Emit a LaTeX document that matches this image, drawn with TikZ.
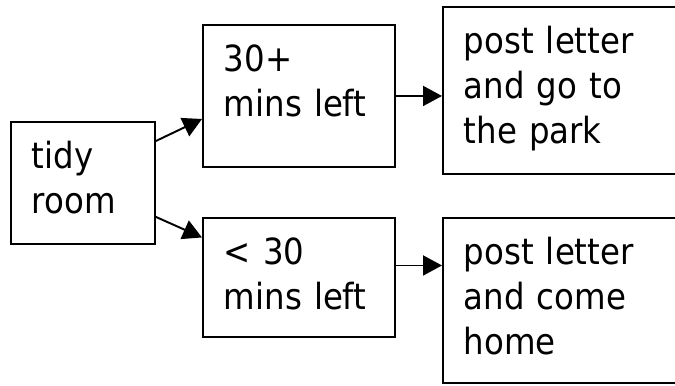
\documentclass[tikz,border=0pt]{standalone}
\usepackage{fontspec}
\setmainfont{DejaVu Sans}[FakeStretch=0.9]
\usetikzlibrary{arrows.meta, positioning}
\tikzstyle{box} = [rectangle, anchor=north west, draw=black, line width=1.1pt, align=left, inner xsep=0.42cm, inner ysep=0pt, text height=0.94cm, font=\fontsize{20.5pt}{25.6pt}\selectfont]
\tikzstyle{arrow} = [line width=1.1pt, -{Triangle[length=0.38cm, width=0.4cm]}]
\begin{document}
\begin{tikzpicture}
\useasboundingbox (0,0) rectangle (13.5,-7.7);
\node (tidy) [box, text width=2.04cm, text depth=1.5cm] at (0.2,-2.42) {tidy\\room};
\node (thirty) [box, text width=3cm, text depth=1.9cm] at (4.04,-0.48) {30+\\mins left};
\node (less) [box, text width=3cm, text depth=1.44cm] at (4.04,-4.34) {< 30\\mins left};
\node (park) [box, text width=4.32cm, text depth=2.4cm] at (8.84,-0.12) {post letter\\and go to\\the park};
\node (home) [box, text width=4.32cm, text depth=2.36cm] at (8.84,-4.34) {post letter\\and come\\home};
\draw[arrow] ([yshift=-0.4cm]tidy.north east) -- ([yshift=-0.46cm]thirty.west);
\draw[arrow] ([yshift=0.56cm]tidy.south east) -- ([yshift=0.8cm]less.west);
\draw[arrow] (thirty.east) -- (thirty.east -| park.west);
\draw[arrow] ([yshift=0.24cm]less.east) -- ([yshift=0.24cm]less.east -| home.west);
\end{tikzpicture}
\end{document}
